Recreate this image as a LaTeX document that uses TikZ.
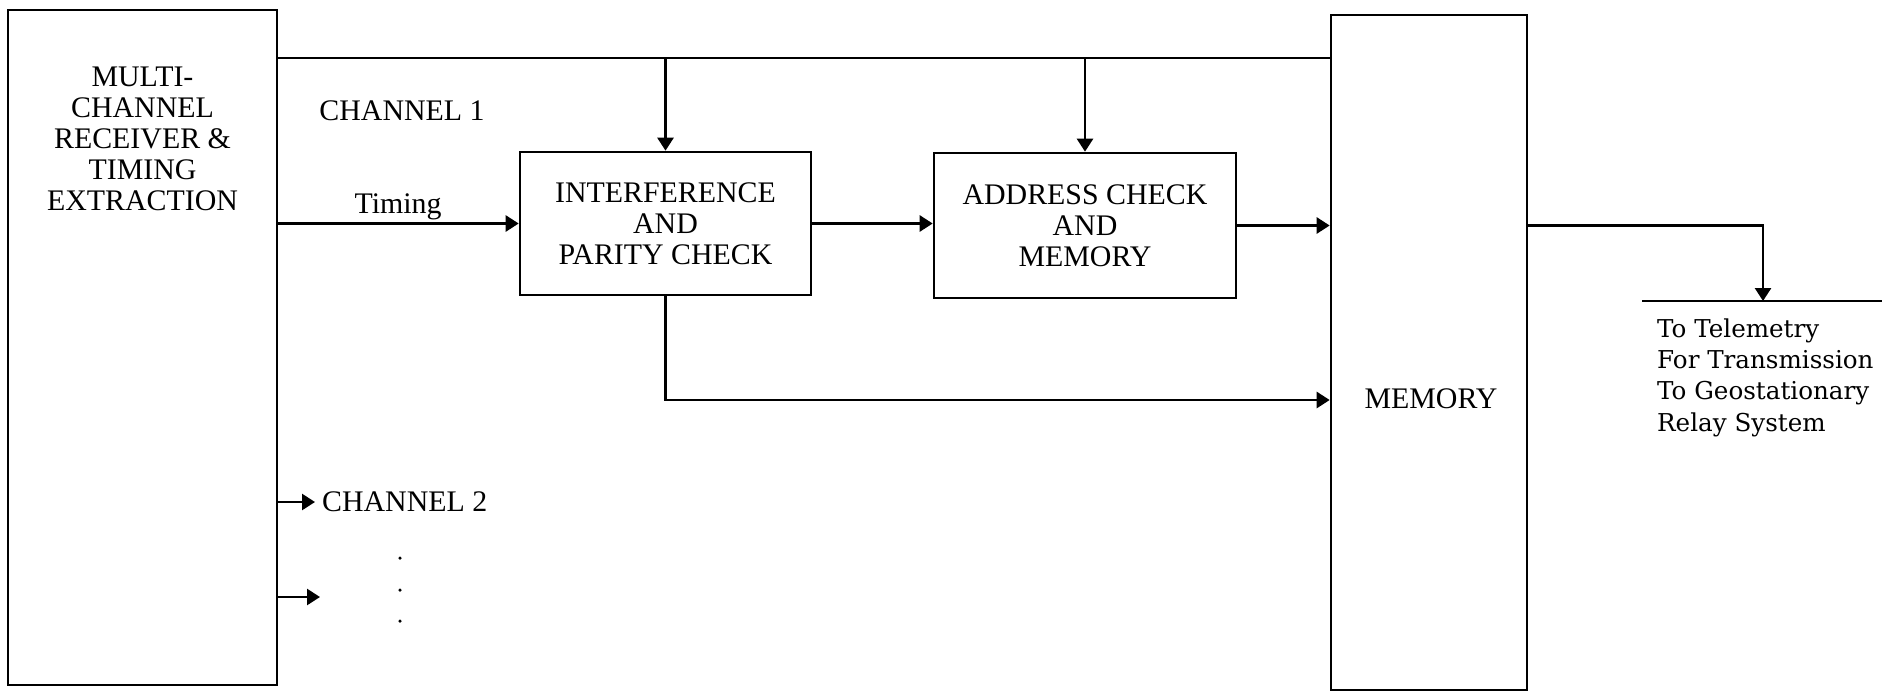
\documentclass[tikz,border=0pt]{standalone}
\usepackage{fontspec}
\setmainfont{Liberation Serif}
\newfontfamily\notefont{DejaVu Serif}
\usetikzlibrary{arrows.meta}
\begin{document}
\begin{tikzpicture}[x=0.2mm,y=-0.2mm,line width=1.5pt,>={Triangle[length=2.6mm,width=3.2mm]},
    blk/.style={draw,inner sep=0pt},
    txt/.style={align=center,font=\fontsize{17}{17.6}\selectfont},
    note/.style={align=left,font=\notefont\fontsize{14}{17.8}\selectfont}]
    \useasboundingbox (0,0) rectangle (1895,692);
    % blocks
    \node[blk,minimum width=53.8mm,minimum height=135mm] (recv) at (142.5,347.5) {};
    \node[txt] (recvlbl) at (142.5,139) {MULTI-\\CHANNEL\\RECEIVER \&\\TIMING\\EXTRACTION};
    \node[blk,txt,minimum width=58.2mm,minimum height=28.6mm] (intp) at (665.5,223.5) {INTERFERENCE\\AND\\PARITY CHECK};
    \node[blk,txt,minimum width=60.4mm,minimum height=29mm] (addr) at (1085,225.5) {ADDRESS CHECK\\AND\\MEMORY};
    \node[blk,minimum width=39.2mm,minimum height=135mm] (mem) at (1429,352.5) {};
    \node[txt] (memlbl) at (1431,399) {MEMORY};
    % labels
    \node[txt] (ch1) at (402,111) {CHANNEL 1};
    \node[txt] (tim) at (398,207) {Timing};
    \node[txt,anchor=west] (ch2) at (315,502) {CHANNEL 2};
    \node[note,anchor=west] (tel) at (1650,377.5) {To Telemetry\\For Transmission\\To Geostationary\\Relay System};
    \coordinate (chn) at (320,597);
    \coordinate (bus) at (0,58);
    \coordinate (low) at (0,400);
    \coordinate (out) at (1763,301);
    \coordinate (busl) at (1642,301);
    \coordinate (busr) at (1882,301);
    % connectors
    \draw (recv.east |- bus) -- (mem.west |- bus);
    \draw[->] (intp.north |- bus) -- (intp.north);
    \draw[->] (addr.north |- bus) -- (addr.north);
    \draw[->] (recv.east |- intp.west) -- (intp.west);
    \draw[->] (intp.east) -- (intp.east -| addr.west);
    \draw[->] (addr.east) -- (addr.east -| mem.west);
    \draw[->] (intp.south) |- (mem.west |- low);
    \draw[->] (mem.east |- addr.east) -| (out);
    \draw (busl) -- (busr);
    \draw[->] (recv.east |- ch2.west) -- (ch2.west);
    \draw[->] (recv.east |- chn) -- (chn);
    \foreach \y in {558,590,621}
        \fill (400,\y) circle[radius=0.35mm];
\end{tikzpicture}
\end{document}
